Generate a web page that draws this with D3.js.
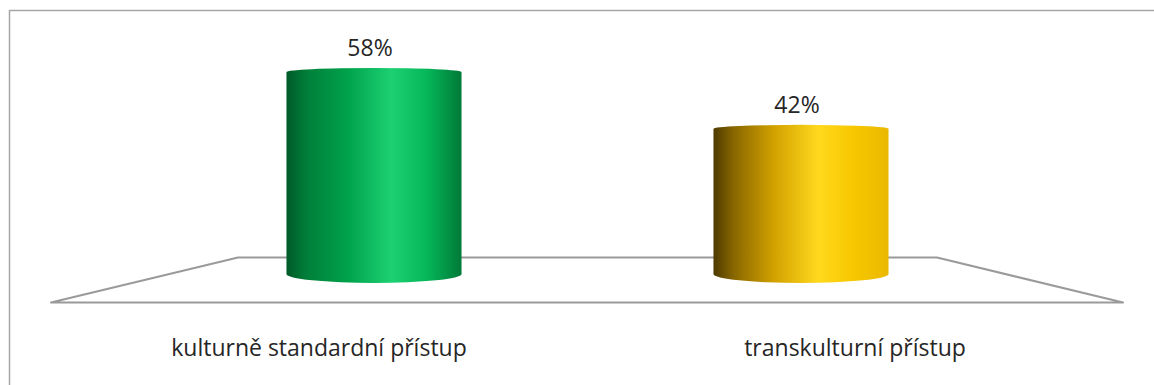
<!DOCTYPE html>
<html>
<head>
<meta charset="utf-8">
<script src="https://cdn.jsdelivr.net/npm/d3@7"></script>
<style>
  html, body { margin: 0; padding: 0; background: #fff; }
  svg { display: block; }
</style>
</head>
<body>
<svg id="chart" width="1154" height="385"></svg>
<script>
// Chart data
const categories = ["kulturně standardní přístup", "transkulturní přístup"];
const values = [58, 42];
const valueLabels = ["58%", "42%"];
const colorKeys = ["green", "gold"];

const svg = d3.select("#chart");
const font = "'Open Sans', sans-serif";

// Outer frame (open on the right and bottom, as clipped)
svg.append("path")
  .attr("d", "M9.5,385 L9.5,10.5 L1154,10.5")
  .attr("fill", "none").attr("stroke", "#a6a6a6").attr("stroke-width", 1.5);

// Gradients for the cylinders
const defs = svg.append("defs");
const gradStops = {
  green: [[0, "#005a28"], [0.12, "#00803a"], [0.35, "#00a24c"], [0.6, "#1dd173"], [0.8, "#06b75a"], [1, "#007a38"]],
  gold: [[0, "#4e3a00"], [0.12, "#8a6800"], [0.35, "#d3a200"], [0.6, "#ffd91e"], [0.8, "#f7c700"], [1, "#eab800"]]
};
Object.entries(gradStops).forEach(([k, stops]) => {
  const g = defs.append("linearGradient").attr("id", "grad-" + k)
    .attr("x1", "0%").attr("x2", "100%").attr("y1", "0%").attr("y2", "0%");
  stops.forEach(([o, c]) => g.append("stop").attr("offset", o).attr("stop-color", c));
});

// Floor (3D plane in perspective)
const floorBackY = 257.5, floorFrontY = 302.5;
const floorBack = [238, 937], floorFront = [51, 1123];
svg.append("path")
  .attr("d", `M${floorFront[0]},${floorFrontY} L${floorBack[0]},${floorBackY} L${floorBack[1]},${floorBackY} L${floorFront[1]},${floorFrontY} Z`)
  .attr("fill", "none").attr("stroke", "#9a9a9a").attr("stroke-width", 2).attr("stroke-linejoin", "round");

// Scales
const xLabel = d3.scaleBand().domain(categories).range(floorFront).padding(0);
const xBar = d3.scaleBand().domain(categories).range([160.5, 1014.5]).paddingInner(0.59).paddingOuter(0.295);
const y = d3.scaleLinear().domain([0, 58]).range([278, 72]);

const ryTop = 4, ryBottom = 9;

const bars = svg.append("g").selectAll("g.bar")
  .data(categories.map((c, i) => ({ c, v: values[i], label: valueLabels[i], key: colorKeys[i] })))
  .join("g").attr("class", "bar");

bars.append("path")
  .attr("fill", d => `url(#grad-${d.key})`)
  .attr("d", d => {
    const x0 = xBar(d.c), w = xBar.bandwidth(), x1 = x0 + w;
    const yt = y(d.v), yb = y(0) - 4;
    const r = w / 2;
    return `M${x0},${yt} A${r},${ryTop} 0 0 1 ${x1},${yt} L${x1},${yb} A${r},${ryBottom} 0 0 1 ${x0},${yb} Z`;
  });

// Value labels
bars.append("text")
  .attr("x", d => xBar(d.c) + xBar.bandwidth() / 2 - 4)
  .attr("y", d => y(d.v) - 16)
  .attr("text-anchor", "middle")
  .attr("font-family", font).attr("font-size", 23).attr("fill", "#262626")
  .text(d => d.label);

// Category labels
svg.append("g").selectAll("text")
  .data(categories)
  .join("text")
  .attr("x", d => xLabel(d) + xLabel.bandwidth() / 2)
  .attr("y", 356)
  .attr("text-anchor", "middle")
  .attr("font-family", font).attr("font-size", 23).attr("fill", "#262626")
  .text(d => d);
</script>
</body>
</html>
